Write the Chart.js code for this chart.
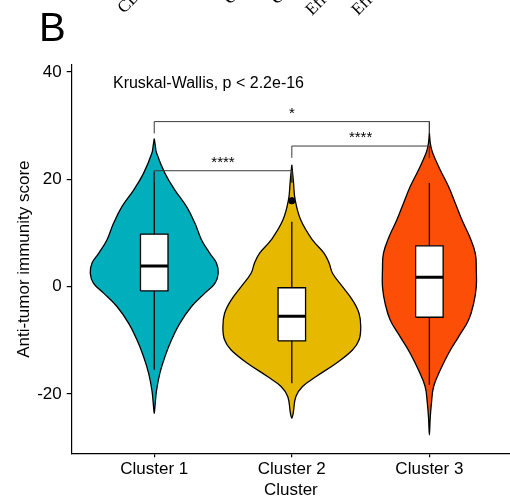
<!DOCTYPE html>
<html>
<head>
<meta charset="utf-8">
<script src="https://cdn.jsdelivr.net/npm/chart.js@4.4.1/dist/chart.umd.min.js"></script>
<style>
  body { margin: 0; background: #fff; }
</style>
</head>
<body>
<canvas id="violin" width="510" height="498"></canvas>
<script>
// categories and colours
const categories = ["Cluster 1", "Cluster 2", "Cluster 3"];
const fillColors = ["#00AFBB", "#E7B800", "#FC4E07"];
const yTicks = [-20, 0, 20, 40];

// violin outlines: score levels (top -> bottom) and half widths (category units)
const violin1Y = [27.6, 26.4, 24.9, 21.1, 18.0, 14.9, 11.8, 8.7, 6.2, 4.4, 2.5, 0.6, -1.2, -3.7, -6.8, -9.9, -13.0, -16.1, -19.3, -22.4, -23.6];
const violin1W = [0, 0.007, 0.017, 0.078, 0.150, 0.235, 0.296, 0.344, 0.404, 0.452, 0.465, 0.441, 0.368, 0.271, 0.187, 0.126, 0.078, 0.041, 0.017, 0.005, 0];
const violin2Y = [22.7, 19.5, 16.2, 12.4, 8.7, 6.2, 4.4, 2.5, 0, -2.5, -5.0, -7.5, -9.9, -11.8, -14.3, -16.8, -18.6, -20.5, -23.6, -24.5];
const violin2W = [0, 0.012, 0.024, 0.065, 0.150, 0.235, 0.271, 0.296, 0.368, 0.441, 0.489, 0.501, 0.489, 0.441, 0.320, 0.174, 0.078, 0.029, 0.010, 0];
const violin3Y = [28.6, 26.5, 24.9, 21.7, 18.6, 15.5, 12.4, 9.3, 6.2, 3.1, 0, -3.1, -6.2, -9.3, -12.4, -15.5, -18.6, -21.7, -24.5, -27.6];
const violin3W = [0, 0.008, 0.024, 0.080, 0.140, 0.189, 0.237, 0.293, 0.334, 0.341, 0.341, 0.322, 0.285, 0.213, 0.140, 0.080, 0.031, 0.015, 0.006, 0];

// box plot stats per cluster
const whiskerLow = [-15.5, -18.0, -18.3];
const q1 = [-0.8, -10.1, -5.7];
const median = [3.86, -5.5, 1.75];
const q3 = [9.77, -0.2, 7.6];
const whiskerHigh = [21.4, 12.1, 19.3];
const outliers = [{ x: 2, y: 16.0 }];

// pairwise comparisons
const comparisons = [[1, 2], [2, 3], [1, 3]];
const bracketY = [21.6, 26.2, 30.75];
const starLabels = ["****", "****", "*"];

const testLabel = "Kruskal-Wallis, p < 2.2e-16";
const testPos = [0.7, 36.95];

// cut-off labels of the panel above
const topLabels = ["CD8 T cells", "γδ T cells", "Cytotoxic cells", "Cytolytic activity",
    "Effector memory CD8 T cells", "Effector memory CD4 T cells"];
const topLabelStart = [[124, 14], [186, -1], [230, 5], [277, 5], [312, 16], [358, 16]];

const SANS = '"Liberation Sans", Arial, sans-serif';
const BOX_HALF = 0.1;

function violinPoints(center, ys, ws) {
    const pts = [];
    ys.forEach((v, i) => pts.push({ x: center - ws[i], y: v }));
    for (let i = ys.length - 2; i >= 0; i--) pts.push({ x: center + ws[i], y: ys[i] });
    return pts;
}

const violins = [[violin1Y, violin1W], [violin2Y, violin2W], [violin3Y, violin3W]];
const datasets = [];

violins.forEach(([ys, ws], i) => {
    datasets.push({
        data: violinPoints(i + 1, ys, ws),
        showLine: true, fill: "shape", tension: 0.4,
        backgroundColor: fillColors[i], borderColor: "#000", borderWidth: 1.3,
        pointRadius: 0, order: 4
    });
});

categories.forEach((c, i) => {
    const cx = i + 1;
    datasets.push({
        data: [{ x: cx, y: whiskerLow[i] }, { x: cx, y: whiskerHigh[i] }],
        showLine: true, borderColor: "#000", borderWidth: 1.3, pointRadius: 0, order: 3
    });
    datasets.push({
        data: [
            { x: cx - BOX_HALF, y: q1[i] }, { x: cx + BOX_HALF, y: q1[i] },
            { x: cx + BOX_HALF, y: q3[i] }, { x: cx - BOX_HALF, y: q3[i] },
            { x: cx - BOX_HALF, y: q1[i] }
        ],
        showLine: true, fill: "shape", tension: 0,
        backgroundColor: "#fff", borderColor: "#000", borderWidth: 1.3, pointRadius: 0, order: 2
    });
    datasets.push({
        data: [{ x: cx - BOX_HALF, y: median[i] }, { x: cx + BOX_HALF, y: median[i] }],
        showLine: true, borderColor: "#000", borderWidth: 3, pointRadius: 0, order: 1
    });
});

datasets.push({
    data: outliers, showLine: false, pointRadius: 3.2,
    backgroundColor: "#000", borderColor: "#000", order: 0
});

comparisons.forEach(([a, b], i) => {
    const tip = 2.2;
    datasets.push({
        data: [{ x: a, y: bracketY[i] - tip }, { x: a, y: bracketY[i] },
               { x: b, y: bracketY[i] }, { x: b, y: bracketY[i] - tip }],
        showLine: true, borderColor: "#3a3a3a", borderWidth: 1, pointRadius: 0, order: 0
    });
});

const annotations = {
    id: "annotations",
    afterDatasetsDraw(chart) {
        const { ctx, scales: { x, y } } = chart;
        ctx.save();
        ctx.fillStyle = "#000";

        ctx.font = "16px " + SANS;
        ctx.textAlign = "left";
        ctx.textBaseline = "alphabetic";
        ctx.fillText(testLabel, x.getPixelForValue(testPos[0]), y.getPixelForValue(testPos[1]));

        ctx.font = "15px " + SANS;
        ctx.textAlign = "center";
        comparisons.forEach(([a, b], i) => {
            ctx.fillText(starLabels[i], x.getPixelForValue((a + b) / 2), y.getPixelForValue(bracketY[i]) - 4);
        });

        ctx.font = "40px " + SANS;
        ctx.textAlign = "left";
        ctx.fillText("B", 39, 41);

        ctx.font = '17px "Liberation Serif", "Times New Roman", serif';
        topLabels.forEach((t, i) => {
            ctx.save();
            ctx.translate(topLabelStart[i][0], topLabelStart[i][1]);
            ctx.rotate(-Math.PI / 4);
            ctx.fillText(t, 0, 0);
            ctx.restore();
        });
        ctx.restore();
    }
};

new Chart(document.getElementById("violin"), {
    type: "scatter",
    data: { datasets: datasets },
    options: {
        responsive: false,
        animation: false,
        devicePixelRatio: 1,
        layout: { autoPadding: false, padding: { top: 65, left: 0, right: 0, bottom: 0 } },
        plugins: { legend: { display: false }, tooltip: { enabled: false } },
        scales: {
            x: {
                type: "linear", min: 0.4, max: 3.586,
                afterBuildTicks: s => { s.ticks = categories.map((c, i) => ({ value: i + 1 })); },
                afterFit: s => { s.height = 44.7; s.paddingLeft = 0; s.paddingRight = 0; },
                ticks: {
                    callback: v => categories[v - 1], color: "#000",
                    font: { family: SANS, size: 17 }, padding: 2, maxRotation: 0, autoSkip: false
                },
                grid: { drawOnChartArea: false, drawTicks: true, tickLength: 4, color: "#000", lineWidth: 1.2 },
                border: { color: "#000", width: 1.2 },
                title: {
                    display: true, text: "Cluster", color: "#000",
                    font: { family: SANS, size: 17 }, padding: { top: 0, bottom: -3 }
                }
            },
            y: {
                min: -31.05, max: 41.3,
                afterBuildTicks: s => { s.ticks = yTicks.map(v => ({ value: v })); },
                afterFit: s => { s.width = 71.7; },
                ticks: { color: "#000", font: { family: SANS, size: 17 }, padding: 5 },
                grid: { drawOnChartArea: false, drawTicks: true, tickLength: 5, color: "#000", lineWidth: 1.2 },
                border: { color: "#000", width: 1.2 },
                title: {
                    display: true, text: "Anti-tumor immunity score", color: "#000",
                    font: { family: SANS, size: 17 }, padding: { top: 14, bottom: 0 }
                }
            }
        }
    },
    plugins: [annotations]
});
</script>
</body>
</html>
